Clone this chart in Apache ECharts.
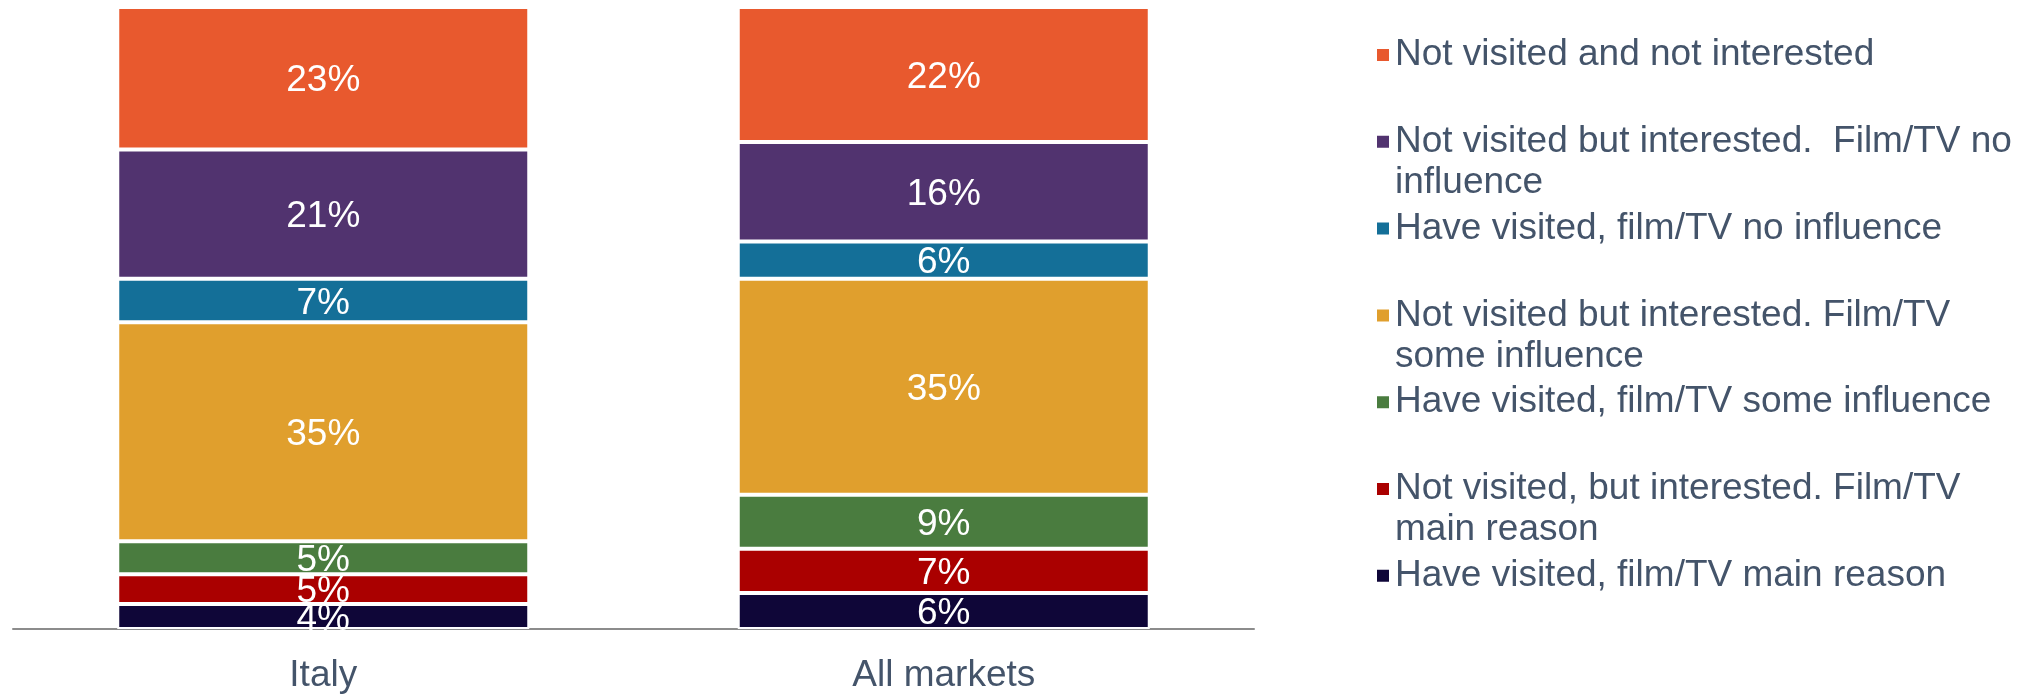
<!DOCTYPE html>
<html>
<head>
<meta charset="utf-8">
<script src="https://cdn.jsdelivr.net/npm/echarts@6/dist/echarts.min.js"></script>
<style>
  html, body { margin: 0; padding: 0; background: #fff; }
  #chart { width: 2036px; height: 694px; }
</style>
</head>
<body>
<div id="chart"></div>
<script>
// categories on the x axis
const categories = ['Italy', 'All markets']

// series names, bottom of the stack first
const seriesNames = [
  'Have visited, film/TV main reason',
  'Not visited, but interested. Film/TV main reason',
  'Have visited, film/TV some influence',
  'Not visited but interested. Film/TV some influence',
  'Have visited, film/TV no influence',
  'Not visited but interested.  Film/TV no influence',
  'Not visited and not interested'
]

// shares in % (labels are rounded)
const haveVisitedMain = [4.0, 5.8]
const notVisitedMain = [4.8, 7.1]
const haveVisitedSome = [5.3, 8.7]
const notVisitedSome = [35.2, 34.7]
const haveVisitedNo = [7.0, 6.0]
const notVisitedNo = [20.8, 16.0]
const notInterested = [22.9, 21.7]

const seriesValues = [
  haveVisitedMain, notVisitedMain, haveVisitedSome, notVisitedSome,
  haveVisitedNo, notVisitedNo, notInterested
]

// legend order top to bottom, with the line breaks used in the picture
const legendOrder = [6, 5, 4, 3, 2, 1, 0]
const legendLines = {
  'Not visited but interested.  Film/TV no influence': ['Not visited but interested.  Film/TV no', 'influence'],
  'Not visited but interested. Film/TV some influence': ['Not visited but interested. Film/TV', 'some influence'],
  'Not visited, but interested. Film/TV main reason': ['Not visited, but interested. Film/TV', 'main reason']
}

const colors = ['#0F0638', '#AA0000', '#4A7C3F', '#E09F2D', '#146F98', '#51336F', '#E8592E']

const FONT = "'Liberation Sans', Arial, sans-serif"
const TEXT_COLOR = '#44546A'
const LINE_H = 41

// one legend per entry so entries sit on an even pitch like the original
const legends = legendOrder.map((idx, i) => {
  const name = seriesNames[idx]
  const center = 55 + 86.8 * i
  const twoLines = !!legendLines[name]
  return {
    data: [name],
    orient: 'vertical',
    left: 1375,
    top: twoLines ? center - LINE_H * 1.5 : center - LINE_H / 2,
    padding: 0,
    icon: 'rect',
    itemWidth: 14,
    itemHeight: 14,
    selectedMode: false,
    formatter: n => legendLines[n] ? '\n' + legendLines[n].join('\n') : n,
    textStyle: {
      fontFamily: FONT,
      fontSize: 37,
      lineHeight: LINE_H,
      color: TEXT_COLOR
    }
  }
})

const chart = echarts.init(document.getElementById('chart'))
chart.setOption({
  animation: false,
  legend: legends,
  grid: { left: 13, right: 782, top: 7, bottom: 62, containLabel: false },
  xAxis: {
    type: 'category',
    data: categories,
    axisLine: { lineStyle: { color: '#8C8C8C', width: 2 } },
    axisTick: { show: false },
    axisLabel: {
      fontFamily: FONT,
      fontSize: 37,
      color: TEXT_COLOR,
      margin: 28
    }
  },
  yAxis: {
    type: 'value',
    min: 0,
    max: 100,
    show: false,
    splitLine: { show: false }
  },
  series: seriesNames.map((name, i) => ({
    name: name,
    type: 'bar',
    stack: 'total',
    barWidth: 412,
    data: seriesValues[i],
    itemStyle: { color: colors[i], borderColor: '#fff', borderWidth: 2 },
    label: {
      show: true,
      position: 'inside',
      offset: [0, 3],
      formatter: p => Math.round(p.value) + '%',
      fontFamily: FONT,
      fontSize: 37,
      color: '#fff'
    }
  }))
})
</script>
</body>
</html>
